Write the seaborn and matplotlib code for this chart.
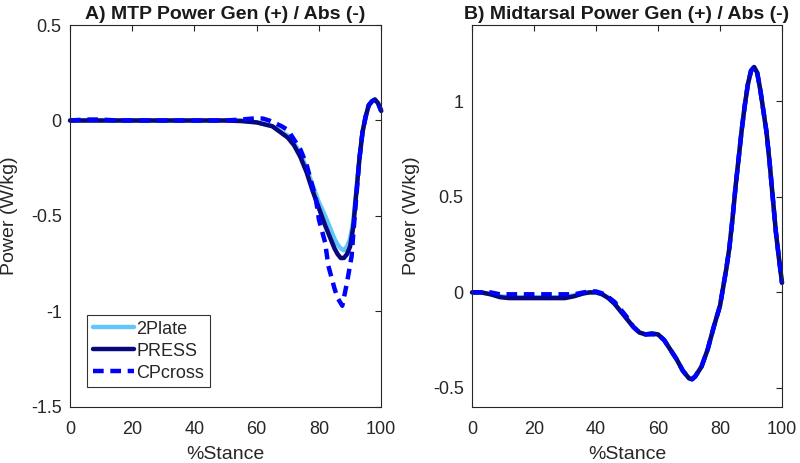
import matplotlib
matplotlib.use("Agg")
import matplotlib.pyplot as plt
import seaborn as sns

# ---- A) MTP power ----
mtp_x = [0, 10, 20, 30, 40, 50, 55, 60, 65, 70, 72, 74, 76, 78, 80, 82, 84, 85, 86, 87,
         88, 89, 90, 91, 92, 93, 94, 95, 96, 97, 98, 99, 100]
mtp_2plate = [0, 0, 0, 0, 0, 0, 0, -0.01, -0.03, -0.08, -0.12, -0.17, -0.25, -0.34, -0.43, -0.5, -0.58, -0.62,
              -0.65, -0.67, -0.68, -0.66, -0.62, -0.53, -0.37, -0.2, -0.06, 0.02, 0.08, 0.1, 0.11, 0.09, 0.05]
mtp_press = [0, 0, 0, 0, 0, 0, -0.003, -0.01, -0.03, -0.09, -0.13, -0.19, -0.27, -0.37, -0.46, -0.55, -0.63, -0.67,
             -0.7, -0.72, -0.72, -0.7, -0.66, -0.56, -0.38, -0.2, -0.06, 0.02, 0.08, 0.1, 0.11, 0.09, 0.05]
cp_x = [0, 5, 10, 15, 20, 30, 40, 50, 55, 60, 62, 64, 66, 68, 70, 72, 74, 76, 77, 79, 80, 82, 83, 85, 86,
        87.5, 89, 90.5, 91, 92, 93, 94, 95, 96, 97, 98, 99, 100]
mtp_cp = [0, 0.005, 0.005, 0, 0, 0, 0, 0, 0.005, 0.012, 0.01, 0.0, -0.015, -0.03, -0.05, -0.1, -0.15, -0.23,
          -0.29, -0.41, -0.52, -0.64, -0.76, -0.88, -0.93, -0.97, -0.85, -0.71, -0.6, -0.4, -0.2, -0.06,
          0.02, 0.08, 0.1, 0.11, 0.09, 0.05]

# ---- B) Midtarsal power ----
mid_x = [0, 3, 6, 9, 12, 15, 20, 25, 30, 33, 36, 38, 40, 42, 44, 46, 48, 50, 52, 54, 56, 58, 60, 62, 64,
         66, 68, 70, 71, 72, 74, 76, 78, 80, 82, 83, 84, 85, 86, 87, 88, 89, 90, 91, 92, 93, 94, 95, 96,
         97, 98, 99, 100]
mid_press = [0, 0, -0.01, -0.025, -0.03, -0.03, -0.03, -0.03, -0.03, -0.02, -0.005, 0, 0, -0.01, -0.03,
             -0.06, -0.1, -0.14, -0.18, -0.21, -0.22, -0.215, -0.22, -0.25, -0.3, -0.35, -0.41, -0.45,
             -0.455, -0.44, -0.39, -0.3, -0.18, -0.07, 0.12, 0.23, 0.38, 0.55, 0.7, 0.85, 0.98, 1.09, 1.16,
             1.18, 1.15, 1.06, 0.95, 0.84, 0.68, 0.5, 0.32, 0.18, 0.05]
mid_2plate = [0, 0, -0.01, -0.02, -0.025, -0.025, -0.025, -0.025, -0.025, -0.015, -0.005, 0, 0, -0.01, -0.03,
              -0.06, -0.1, -0.14, -0.18, -0.21, -0.22, -0.215, -0.22, -0.25, -0.3, -0.35, -0.41, -0.45,
              -0.45, -0.44, -0.39, -0.3, -0.18, -0.07, 0.12, 0.23, 0.38, 0.55, 0.7, 0.85, 0.98, 1.09, 1.16,
              1.18, 1.15, 1.06, 0.95, 0.84, 0.68, 0.5, 0.32, 0.18, 0.05]
mid_cp = [0, 0, 0, -0.01, -0.01, -0.01, -0.01, -0.01, -0.01, -0.01, 0, 0.005, 0.005, -0.005, -0.025,
          -0.05, -0.09, -0.13, -0.18, -0.21, -0.22, -0.22, -0.22, -0.25, -0.3, -0.35, -0.41, -0.45,
          -0.455, -0.44, -0.39, -0.3, -0.18, -0.07, 0.12, 0.23, 0.38, 0.55, 0.7, 0.85, 0.98, 1.09, 1.16,
          1.18, 1.15, 1.06, 0.95, 0.84, 0.68, 0.5, 0.32, 0.18, 0.05]

c_2plate = "#62c6f8"
c_press = "#08087c"
c_cp = "#0000ff"

sns.set_theme(style="white")
plt.rcParams["font.family"] = ["Liberation Sans", "DejaVu Sans"]

fig = plt.figure(figsize=(8, 4.63), dpi=100)
ax1 = fig.add_axes([0.0875, 0.121, 0.389, 0.825])
ax2 = fig.add_axes([0.59, 0.121, 0.3875, 0.825])

lw = 3.2
sns.lineplot(x=mtp_x, y=mtp_2plate, ax=ax1, color=c_2plate, lw=lw, label="2Plate", clip_on=False)
sns.lineplot(x=mtp_x, y=mtp_press, ax=ax1, color=c_press, lw=lw, label="PRESS", clip_on=False)
sns.lineplot(x=cp_x, y=mtp_cp, ax=ax1, color=c_cp, lw=lw, label="CPcross", clip_on=False)
ax1.lines[-1].set_dashes((2.4, 1.5))

sns.lineplot(x=mid_x, y=mid_2plate, ax=ax2, color=c_2plate, lw=lw, clip_on=False)
sns.lineplot(x=mid_x, y=mid_press, ax=ax2, color=c_press, lw=lw, clip_on=False)
sns.lineplot(x=mid_x, y=mid_cp, ax=ax2, color=c_cp, lw=lw, clip_on=False)
ax2.lines[-1].set_dashes((2.4, 1.5))

ax1.set_ylim(-1.5, 0.5)
ax1.set_yticks([-1.5, -1, -0.5, 0, 0.5])
ax1.set_yticklabels(["-1.5", "-1", "-0.5", "0", "0.5"])
ax2.set_ylim(-0.6, 1.4)
ax2.set_yticks([-0.5, 0, 0.5, 1])
ax2.set_yticklabels(["-0.5", "0", "0.5", "1"])

for ax, title in [(ax1, "A) MTP Power Gen (+) / Abs (-)"), (ax2, "B) Midtarsal Power Gen (+) / Abs (-)")]:
    ax.set_xlim(0, 100)
    ax.set_xticks([0, 20, 40, 60, 80, 100])
    ax.set_title(title, fontsize=14, fontweight="bold", pad=4, color="#1a1a1a")
    ax.set_xlabel("%Stance", fontsize=14, color="#262626", labelpad=6)
    ax.set_ylabel("Power (W/kg)", fontsize=14, color="#262626", labelpad=9)
    ax.tick_params(axis="both", direction="in", length=4, width=0.8, top=True, right=True,
                   labelsize=13, colors="#262626")
    ax.tick_params(axis="y", pad=6)
    ax.tick_params(axis="x", pad=10)
    for s in ax.spines.values():
        s.set_color("#262626")
        s.set_linewidth(0.8)

leg = ax1.legend(loc="lower left", bbox_to_anchor=(0.055, 0.052), borderaxespad=0, fontsize=13,
                 frameon=True, fancybox=False, handlelength=2.3, borderpad=0.3, labelspacing=0.28,
                 handletextpad=0.12)
leg.get_frame().set_edgecolor("black")
leg.get_frame().set_linewidth(0.8)

fig.savefig("out.png", dpi=100)
